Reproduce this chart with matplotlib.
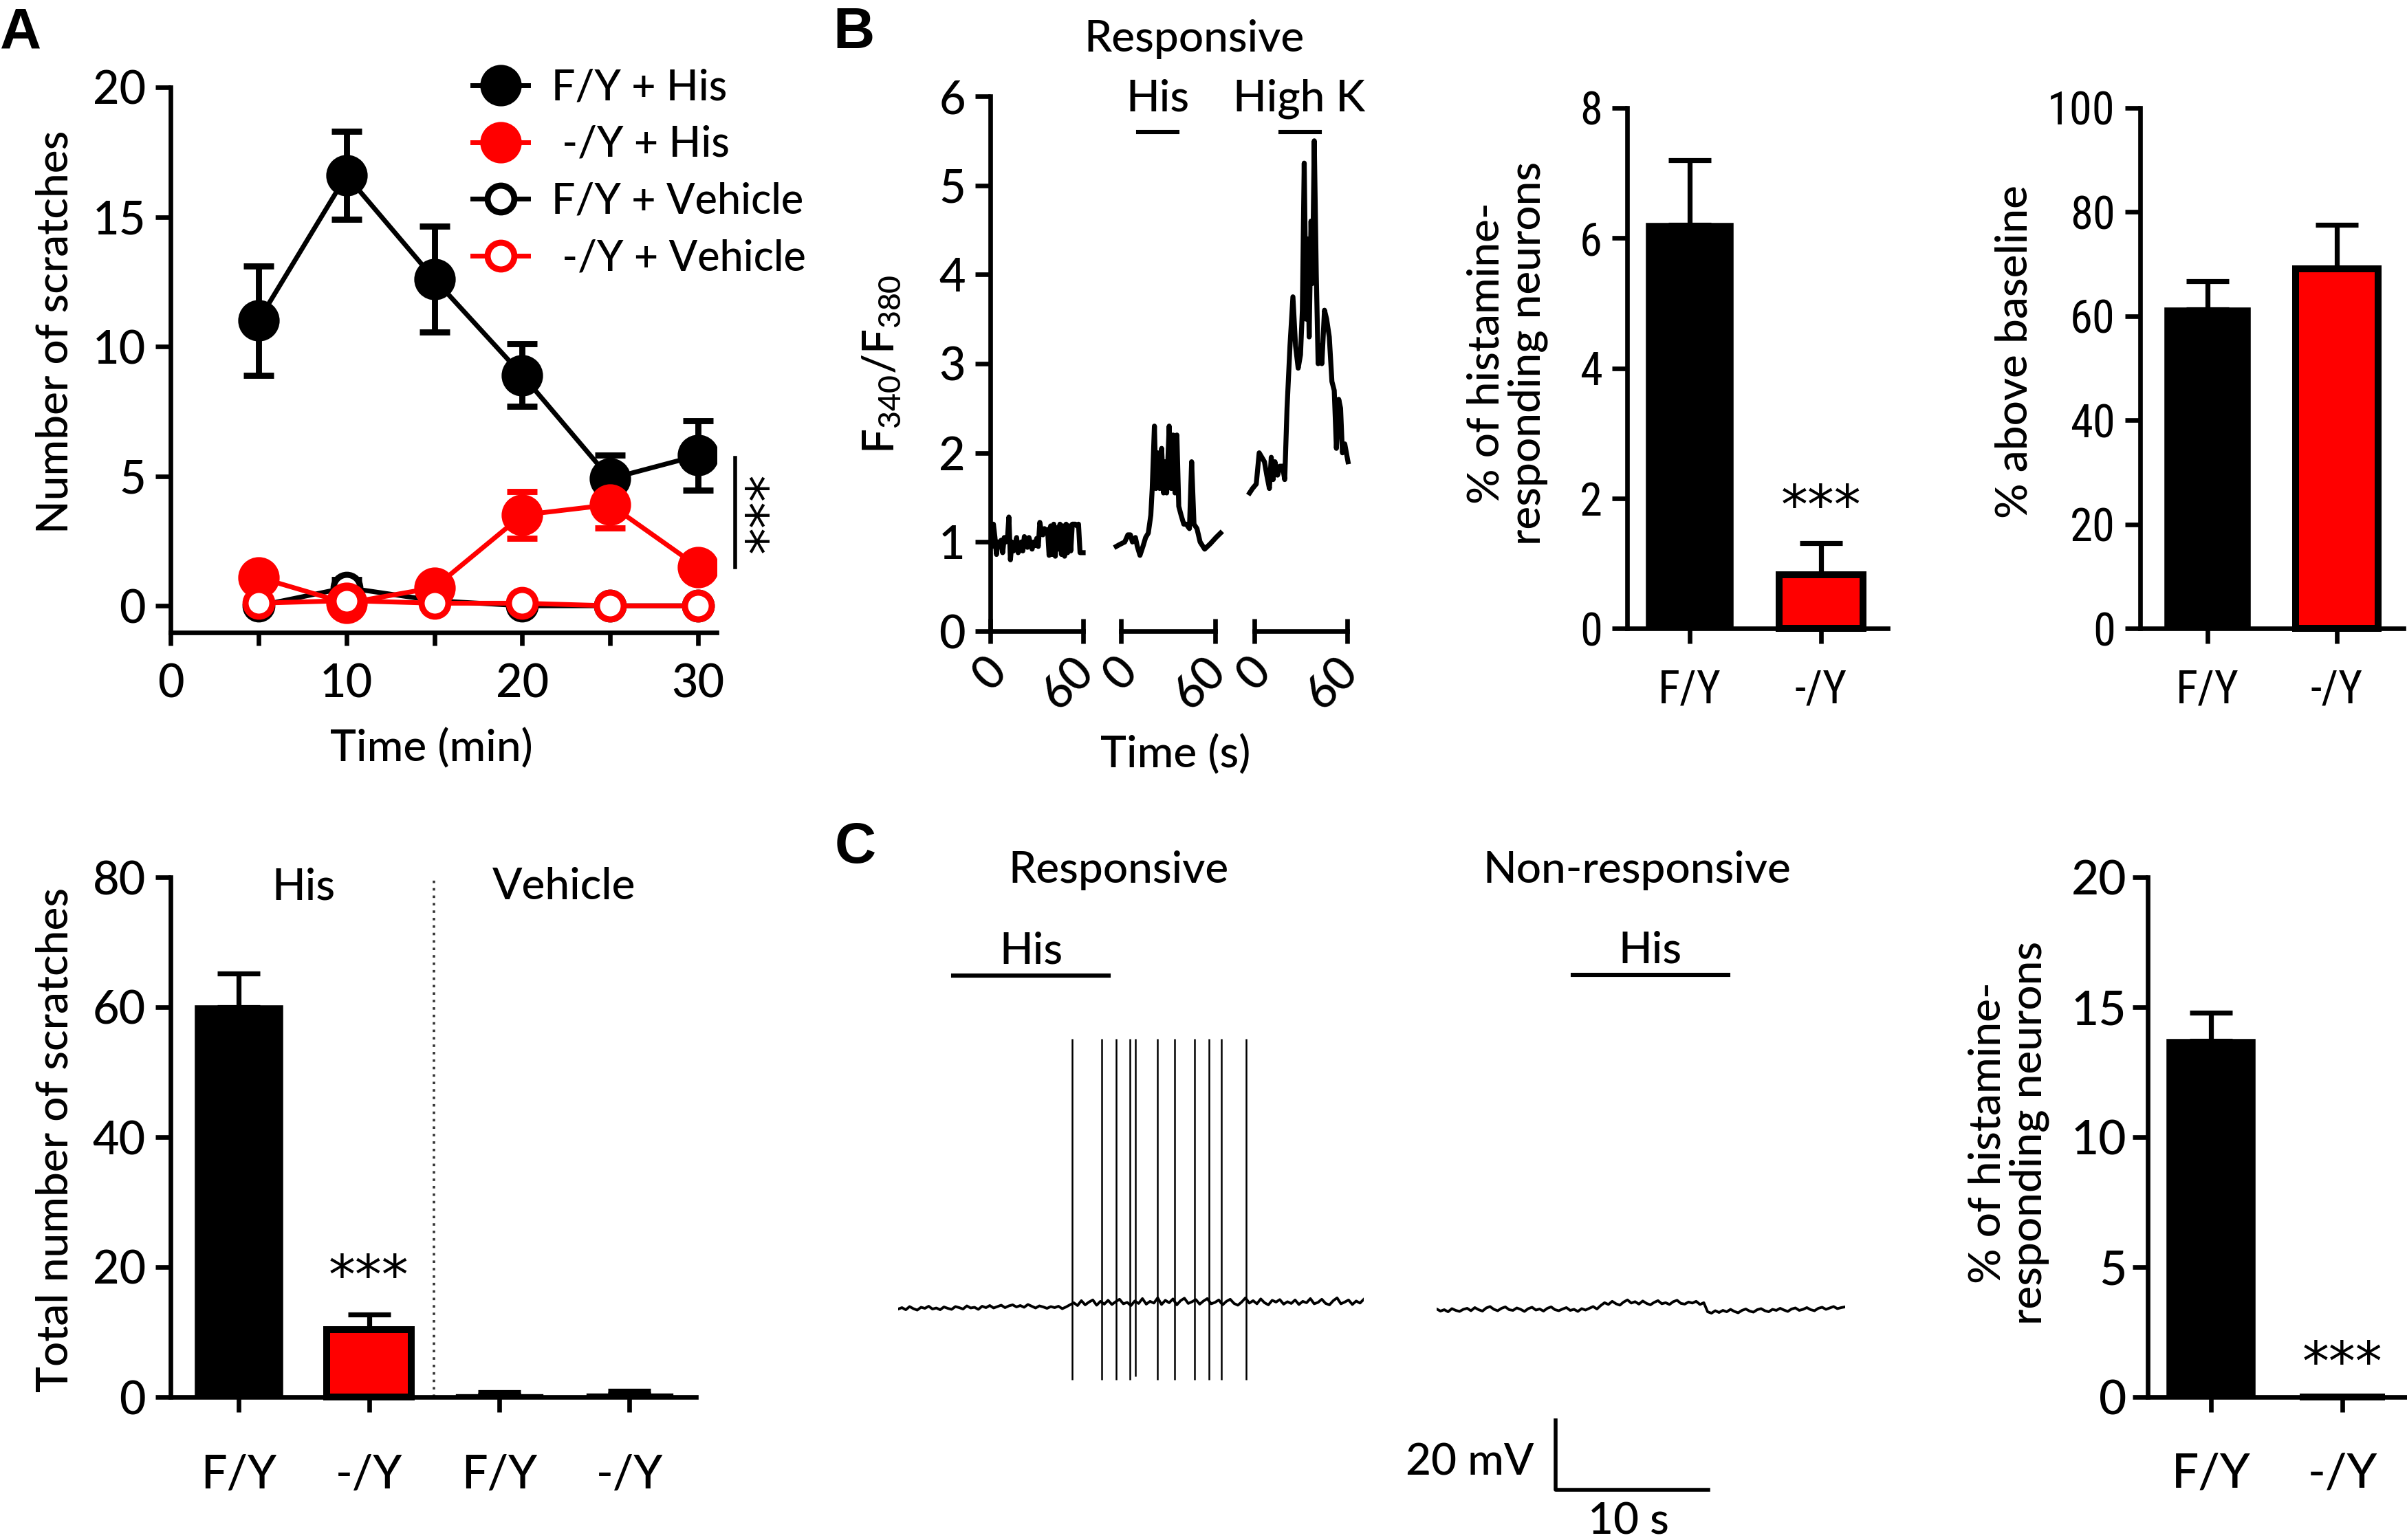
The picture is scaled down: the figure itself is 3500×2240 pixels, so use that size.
import matplotlib
matplotlib.use('Agg')
import matplotlib.pyplot as plt
from matplotlib import font_manager
from matplotlib.transforms import blended_transform_factory, offset_copy
import numpy as np

W, H, DPI = 3500, 2240, 200

installed = {f.name for f in font_manager.fontManager.ttflist}


def pick(names):
    for n in names:
        if n in installed:
            return n
    return 'DejaVu Sans'


SANS = pick(['Lato', 'Open Sans', 'Noto Sans'])
NARROW = pick(['Liberation Sans Narrow', 'Roboto Condensed', 'Lato'])
ARIAL = pick(['Liberation Sans', 'DejaVu Sans'])
STAR = 'DejaVu Sans'
plt.rcParams['font.family'] = SANS
plt.rcParams['font.weight'] = 'medium'
RED = '#ff0000'
FS = 23  # labels
TS = 24  # tick labels

# ---------------- data ----------------
# A (top): scratches per 5 min bin
time_min = [5, 10, 15, 20, 25, 30]
fy_his = [11.0, 16.6, 12.6, 8.9, 4.9, 5.8]
fy_his_sem = [2.1, 1.7, 2.05, 1.2, 0.9, 1.35]
ko_his = [1.1, 0.1, 0.7, 3.5, 3.9, 1.5]
ko_his_sem = [0.3, 0.2, 0.3, 0.9, 0.9, 0.3]
fy_veh = [0.0, 0.7, 0.2, 0.0, 0.0, 0.0]
fy_veh_sem = [0.1, 0.3, 0.2, 0.1, 0.0, 0.0]
ko_veh = [0.1, 0.2, 0.1, 0.1, 0.0, 0.0]
ko_veh_sem = [0.1, 0.1, 0.1, 0.1, 0.0, 0.0]
legend_labels = ['F/Y + His', ' -/Y + His', 'F/Y + Vehicle', ' -/Y + Vehicle']

# A (bottom): total scratches
total_labels = ['F/Y', '-/Y', 'F/Y', '-/Y']
total_mean = [60.0, 10.4, 0.3, 0.4]
total_sem = [5.2, 2.3, 0.4, 0.6]

# B: calcium imaging trace (F340/F380), three 60 s windows
seg1_t = list(range(0, 61))
seg1_v = [1.00, 0.95, 1.20, 1.05, 0.86, 1.00, 0.98, 1.02, 0.88, 1.05,
          1.00, 1.02, 1.28, 0.80, 1.00, 0.90, 0.96, 1.05, 0.88, 0.92,
          1.00, 0.90, 1.06, 1.02, 0.94, 1.05, 0.98, 0.92, 1.00, 0.96,
          1.04, 0.95, 1.22, 1.12, 1.08, 1.15, 1.10, 1.14, 0.85, 1.18,
          0.86, 1.20, 0.84, 1.16, 0.92, 1.20, 0.86, 1.18, 0.84, 1.20,
          0.88, 1.18, 0.90, 1.20, 1.20, 1.20, 1.18, 1.20, 0.88, 0.88,
          0.88]
seg2_t = [-3, -1, 2.4, 4.4, 6, 7.3, 9.2, 10.4, 12.1, 14, 15.7, 17.4, 19, 19.9,
          21.3, 22.3, 23.5, 24.7, 25.9, 27.1, 28.1, 29.1, 30.7, 32, 33.2, 34.4,
          35.6, 36.8, 38.3, 40, 41.6, 43.6, 45, 46.5, 48.4, 50.4, 53.3, 56.9,
          60.5, 63.4]
seg2_v = [0.95, 0.97, 1.00, 1.08, 1.08, 1.00, 1.05, 0.95, 0.85, 0.95, 1.05,
          1.10, 1.30, 1.60, 2.30, 1.60, 2.00, 1.60, 2.05, 1.55, 1.90, 1.55,
          2.30, 1.60, 2.20, 1.55, 2.20, 1.40, 1.30, 1.20, 1.20, 1.15, 1.90,
          1.20, 1.15, 1.00, 0.92, 0.98, 1.05, 1.10]
seg3_t = [-3.1, -1.2, 1.2, 3.1, 4.8, 6.5, 8, 9.7, 10.9, 12.1, 13.3, 15, 16.5,
          18.2, 19.6, 21.1, 23, 24.9, 26.6, 28.3, 29.8, 31, 32.2, 33.4, 34.4,
          35.4, 36.6, 37.5, 38.7, 40, 41.2, 42.4, 43.6, 45.3, 46.7, 48.4,
          50.1, 51.6, 53, 54.5, 55.7, 56.9, 58.4, 60.5]
seg3_v = [1.55, 1.60, 1.65, 2.00, 1.95, 1.90, 1.75, 1.60, 1.95, 1.70, 1.90,
          1.75, 1.85, 1.85, 1.70, 2.50, 3.20, 3.75, 3.20, 2.95, 3.10, 3.60,
          5.25, 3.50, 4.40, 3.30, 4.60, 3.90, 5.50, 4.00, 3.00, 3.20, 3.00,
          3.60, 3.50, 3.30, 2.80, 2.70, 2.05, 2.60, 2.50, 2.00, 2.10, 1.90]
seg_ticks = [0, 60]
his_window_s = [11, 36]
highk_window_s = [17, 42]

# B: bar charts
b_labels = ['F/Y', '-/Y']
b_resp_pct = [6.2, 0.82]
b_resp_sem = [1.0, 0.49]
b_above_pct = [61.3, 69.1]
b_above_sem = [5.4, 8.5]

# C: current clamp traces (mV relative to rest), 0.25 s sampling
trace_dt = 0.25
resp_mv = [-0.6, -0.2, -0.8, 0.1, -0.5, -0.9, -0.1, -0.4, 0.2, -0.6,
           -0.3, -0.8, 0.0, -0.4, -0.7, 0.1, -0.2, -0.6, 0.3, -0.3,
           -0.1, -0.7, 0.2, -0.2, 0.4, -0.3, 0.1, 0.5, -0.2, 0.3,
           0.6, 0.0, 0.4, -0.1, 0.7, 0.2, -0.3, 0.3, 0.0, -0.4,
           0.1, -0.2, 0.2, -0.5, 0.0, 0.6,
           1.2, 0.4, 1.8, 0.6, 1.4, 2.0, 0.5, 1.6, 0.8, 1.9,
           0.7, 1.5, 2.2, 0.9, 1.3, 0.4, 1.7, 1.0, 2.4, 0.8,
           1.6, 1.1, 2.6, 0.7, 1.9, 1.2, 2.3, 0.6, 1.8, 2.5,
           1.0, 1.5, 2.1, 0.8, 1.7, 2.4, 0.9, 1.3, 2.0, 0.6,
           1.6, 2.2, 1.0, 0.5, 1.4, 2.6, 1.1,
           1.8, 0.9, 2.3, 1.2, 0.6, 1.9, 1.4, 2.1, 0.8, 1.5,
           1.0, 2.0, 0.7, 1.6, 1.2, 2.4, 0.9, 1.3, 2.2, 1.0,
           0.6, 1.8, 2.6, 0.9, 1.4, 2.0, 0.7, 1.7, 1.1, 2.2]
spike_t = [11.39, 13.35, 14.26, 15.17, 15.52, 17.0, 18.09, 19.43, 20.35, 21.17, 22.78]
spike_peak_mv = [77, 77, 77, 77, 77, 77, 77, 77, 77, 77, 77]
spike_trough_mv = [-21, -21, -21, -21, -20, -21, -21, -21, -21, -21, -21]
nonresp_mv = [0.2, -0.4, 0.0, -0.6, 0.3, -0.2, -0.5, 0.1, 0.4, -0.3,
              0.6, 0.0, -0.4, 0.5, 0.9, 0.1, -0.3, 0.4, 0.8, 0.0,
              -0.2, 0.5, 0.1, -0.5, 0.3, 0.7, -0.1, 0.2, -0.4, 0.4,
              0.8, 0.0, -0.3, 0.2, 0.6, -0.2, 0.1, -0.5, 0.3, -0.1,
              0.4, 0.9, 0.2,
              1.2, 2.0, 1.5, 2.4, 1.7, 1.3, 2.2, 2.8, 1.9, 2.3,
              1.6, 2.5, 1.8, 1.4, 2.1, 2.6, 1.7, 2.0, 1.5, 2.3,
              2.7, 1.8, 1.6, 2.2, 1.9, 2.4, 1.5, 2.0,
              -0.6, -1.0, -0.3, -0.8, -0.2, -0.6, 0.1, -0.5, -0.9, -0.2,
              0.2, -0.4, -0.7, 0.0, 0.3, -0.3, -0.6, 0.1, -0.2, 0.4,
              -0.1, -0.5, 0.2, 0.5, -0.2, 0.1, 0.6, 0.0, -0.3, 0.4,
              0.7, 0.1, 0.5, 0.9, 0.3, 0.6, 0.8]
c_his_resp_s = [3.6, 13.8]
c_his_nonresp_s = [8.9, 19.1]

# C: bar chart
c_labels = ['F/Y', '-/Y']
c_resp_pct = [13.7, 0.0]
c_resp_sem = [1.1, 0.0]

# ---------------- figure ----------------
fig = plt.figure(figsize=(W / DPI, H / DPI), dpi=DPI)


def box(l, t, r, b):
    return fig.add_axes([l / W, 1 - b / H, (r - l) / W, (b - t) / H])


def ftext(x, y, s, **kw):
    kw.setdefault('ha', 'center')
    kw.setdefault('va', 'center')
    fig.text(x / W, 1 - y / H, s, **kw)


def clean(ax, font, size=TS):
    ax.spines[['top', 'right']].set_visible(False)
    ax.spines[['left', 'bottom']].set_linewidth(2.4)
    ax.tick_params(width=2.4, length=8, labelsize=size, labelfontfamily=font)
    ax.patch.set_visible(False)


def plain_ticks(ax):
    for lab in ax.get_xticklabels() + ax.get_yticklabels():
        lab.set_fontweight('normal')


def bar_panel(ax, means, sems, colors, lws, width, capsize):
    x = np.arange(len(means))
    ax.errorbar(x, means, yerr=[np.zeros(len(means)), sems], fmt='none',
                ecolor='black', elinewidth=2.6, capsize=capsize, capthick=2.6,
                zorder=1)
    ax.bar(x, means, width, color=colors, edgecolor='black', linewidth=lws,
           zorder=2, clip_on=False)
    return x


# ---- A top: time course ----
ax = box(248, 127, 1042, 920)
clean(ax, SANS)
handles = []
for mean, sem, col, face, ms in [(fy_his, fy_his_sem, 'black', 'black', 18.5),
                                 (fy_veh, fy_veh_sem, 'black', 'white', 14),
                                 (ko_his, ko_his_sem, RED, RED, 18.5),
                                 (ko_veh, ko_veh_sem, RED, 'white', 14)]:
    c = ax.errorbar(time_min, mean, yerr=sem, color=col, mfc=face, mec=col,
                    marker='o', ms=ms, mew=3.2, lw=2.5, elinewidth=3.2,
                    capsize=8, capthick=3.2)
    handles.append(c[0])
ax.set_xlim(0, 31.05)
ax.set_ylim(-1.03, 20)
ax.set_xticks([0, 10, 20, 30])
ax.set_xticks([5, 15, 25], minor=True)
ax.set_yticks([0, 5, 10, 15, 20])
ax.tick_params(axis='x', which='both', length=7, width=2.4, pad=9)
ax.tick_params(axis='y', pad=5)
ax.legend([handles[0], handles[2], handles[1], handles[3]], legend_labels,
          loc='upper left', bbox_to_anchor=(0.553, 1.035), frameon=False,
          prop={'size': 22}, handlelength=1.33, handletextpad=0.55,
          labelspacing=0.42, borderpad=0, borderaxespad=0)
ax.plot([32.1, 32.1], [1.5, 5.7], color='black', lw=2, clip_on=False)
ax.text(34.0, 3.6, '***', rotation=90, ha='center', va='center', fontsize=28,
        family=STAR)
ftext(81, 483, 'Number of scratches', rotation=90, fontsize=FS)
ftext(627, 1089, 'Time (min)', fontsize=FS)

# ---- A bottom: total scratches ----
ax = box(248, 1276, 1012, 2032)
clean(ax, SANS)
x = bar_panel(ax, total_mean, total_sem, ['black', RED, 'black', RED],
              [2.0, 3.6, 1.2, 1.2], 0.65, 11)
ax.set_xlim(-0.523, 3.51)
ax.set_ylim(0, 80)
ax.set_yticks([0, 20, 40, 60, 80])
ax.set_xticks(x, total_labels)
ax.tick_params(axis='x', pad=22)
ax.tick_params(axis='y', pad=5)
ax.axvline(1.5, color='#333333', lw=1.3, ls=(0, (1, 2)))
ax.text(0.5, 78.5, 'His', ha='center', va='center', fontsize=FS)
ax.text(2.5, 78.5, 'Vehicle', ha='center', va='center', fontsize=FS)
ax.text(1, 18.3, '***', ha='center', va='center', fontsize=28, family=STAR)
ftext(81, 1658, 'Total number of scratches', rotation=90, fontsize=FS)

# ---- B: calcium trace ----
seg_px = [(1440, 1575), (1630, 1767), (1824, 1959)]
seg_axes = []
label_dx = [0, -22]  # px nudge of the slanted 0 / 60 labels
for i, ((l, r), t, v) in enumerate(zip(seg_px, [seg1_t, seg2_t, seg3_t],
                                       [seg1_v, seg2_v, seg3_v])):
    ax = box(l, 140, r, 918)
    clean(ax, SANS, 24)
    ax.plot(t, v, color='black', lw=2.6, clip_on=False)
    ax.set_xlim(0, 60)
    ax.set_ylim(0, 6)
    ax.set_xticks(seg_ticks, [])
    ax.tick_params(axis='x', direction='inout', length=13)
    base = blended_transform_factory(ax.transData, ax.transAxes)
    for tv, dx in zip(seg_ticks, label_dx):
        tr = offset_copy(base, fig=fig, x=dx * 72 / DPI, y=-27 * 72 / DPI,
                         units='points')
        ax.text(tv, 0, str(tv), transform=tr, rotation=45, ha='center',
                va='top', fontsize=24)
    if i == 0:
        ax.set_yticks(range(7))
        ax.tick_params(axis='y', pad=5)
    else:
        ax.spines['left'].set_visible(False)
        ax.set_yticks([])
    seg_axes.append(ax)
seg_axes[1].plot(his_window_s, [5.6, 5.6], color='black', lw=2.2, clip_on=False)
seg_axes[1].text(np.mean(his_window_s), 5.97, 'His', ha='center', va='center',
                 fontsize=FS)
seg_axes[2].plot(highk_window_s, [5.6, 5.6], color='black', lw=2.2, clip_on=False)
seg_axes[2].text(29, 5.97, 'High K', ha='center', va='center', fontsize=FS)
ftext(1737, 57, 'Responsive', fontsize=FS)
ftext(1282, 530, r'F$_{\mathregular{340}}$/F$_{\mathregular{380}}$',
      rotation=90, fontsize=FS)
ftext(1709, 1098, 'Time (s)', fontsize=FS)

# ---- B: bars ----
ax = box(2366, 157, 2745, 914)
clean(ax, NARROW)
x = bar_panel(ax, b_resp_pct, b_resp_sem, ['black', RED], [2.0, 3.6], 0.64, 11)
ax.set_xlim(-0.476, 1.508)
ax.set_ylim(0, 8)
ax.set_yticks([0, 2, 4, 6, 8])
ax.set_xticks(x, b_labels)
ax.tick_params(axis='x', pad=13)
ax.tick_params(axis='y', pad=5)
plain_ticks(ax)
ax.text(1, 1.85, '***', ha='center', va='center', fontsize=28, family=STAR)
ftext(2192, 514, '% of histamine-\nresponding neurons', rotation=90,
      fontsize=FS, linespacing=1.05)

ax = box(3112, 157, 3495, 914)
clean(ax, NARROW)
x = bar_panel(ax, b_above_pct, b_above_sem, ['black', RED], [2.0, 3.6], 0.64, 11)
ax.set_xlim(-0.52, 1.516)
ax.set_ylim(0, 100)
ax.set_yticks([0, 20, 40, 60, 80, 100])
ax.set_xticks(x, b_labels)
ax.tick_params(axis='x', pad=13)
ax.tick_params(axis='y', pad=5)
plain_ticks(ax)
ftext(2930, 512, '% above baseline', rotation=90, fontsize=FS)

# ---- C: traces ----
PX_S, PX_MV = 22.2, 5.07
tr_top, tr_bot = 1330, 2240

resp_t = np.arange(len(resp_mv)) * trace_dt
ax = box(1306, tr_top, 1306 + resp_t[-1] * PX_S, tr_bot)
ax.axis('off')
ax.plot(resp_t, resp_mv, color='black', lw=1.4)
ax.vlines(spike_t, spike_trough_mv, spike_peak_mv, color='black', lw=0.9)
ax.set_xlim(0, resp_t[-1])
ax.set_ylim(-(tr_bot - 1901) / PX_MV, (1901 - tr_top) / PX_MV)
ax.plot(c_his_resp_s, [95, 95], color='black', lw=2.2, clip_on=False)
ax.text(np.mean(c_his_resp_s), 102, 'His', ha='center', va='center', fontsize=FS)

nonresp_t = np.arange(len(nonresp_mv)) * trace_dt
ax = box(2089, tr_top, 2089 + nonresp_t[-1] * PX_S, tr_bot)
ax.axis('off')
ax.plot(nonresp_t, nonresp_mv, color='black', lw=1.4)
ax.set_xlim(0, nonresp_t[-1])
ax.set_ylim(-(tr_bot - 1905) / PX_MV, (1905 - tr_top) / PX_MV)
ax.plot(c_his_nonresp_s, [96, 96], color='black', lw=2.2, clip_on=False)
ax.text(np.mean(c_his_nonresp_s), 103, 'His', ha='center', va='center', fontsize=FS)
# scale bar: 20 mV, 10 s
sb_t, sb_v = 7.8, -51.7
ax.plot([sb_t, sb_t, sb_t + 10], [sb_v + 20, sb_v, sb_v], color='black', lw=2,
        clip_on=False)
ftext(2137, 2127, '20 mV', fontsize=FS)
ftext(2368, 2214, '10 s', fontsize=FS)
ftext(1626, 1266, 'Responsive', fontsize=FS)
ftext(2380, 1266, 'Non-responsive', fontsize=FS)

# ---- C: bars ----
ax = box(3123, 1276, 3500, 2032)
clean(ax, SANS, 25)
x = bar_panel(ax, c_resp_pct, c_resp_sem, ['black', RED], [2.0, 3.6], 0.65, 11)
ax.set_xlim(-0.48, 1.49)
ax.set_ylim(0, 20)
ax.set_yticks([0, 5, 10, 15, 20])
ax.set_xticks(x, c_labels)
ax.tick_params(axis='x', pad=21)
ax.tick_params(axis='y', pad=3)
ax.text(1, 1.25, '***', ha='center', va='center', fontsize=28, family=STAR)
ftext(2921, 1648, '% of histamine-\nresponding neurons', rotation=90,
      fontsize=FS, linespacing=1.05)

# panel letters
for letter, px, py in [('A', 0, 70), ('B', 1211, 70), ('C', 1214, 1255)]:
    ftext(px, py, letter, ha='left', va='baseline', fontsize=30,
          weight='bold', family=ARIAL)

fig.savefig('out.png', dpi=DPI)
